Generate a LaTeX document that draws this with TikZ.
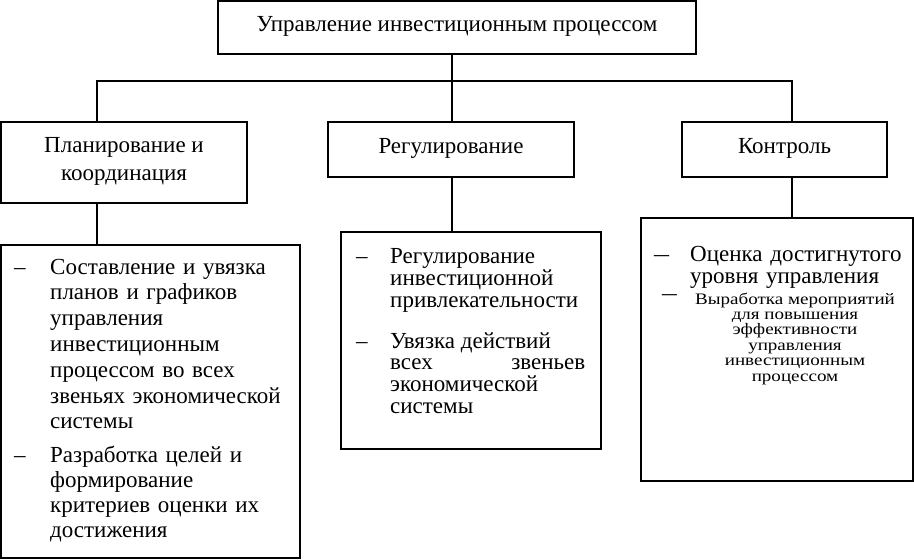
\documentclass[tikz,border=0pt]{standalone}
\usepackage{graphicx}
\usepackage{fontspec}
\setmainfont{Liberation Serif}
\begin{document}
\begin{tikzpicture}[x=1pt,y=-1pt,
  box/.style={draw=black, line width=1.3pt, fill=white, inner sep=0pt},
  conn/.style={draw=black, line width=1.3pt},
  head/.style={inner sep=0pt, align=center, font=\fontsize{23}{28}\selectfont},
  itemL/.style={inner sep=0pt, anchor=base west, text width=250pt, align=left, font=\fontsize{23}{25.8}\selectfont},
  itemM/.style={inner sep=0pt, anchor=base west, text width=210pt, align=left, font=\fontsize{23}{22}\selectfont},
  lineM/.style={inner sep=0pt, anchor=base west, font=\fontsize{23}{22}\selectfont},
  itemR/.style={inner sep=0pt, anchor=base west, text width=220pt, align=left, font=\fontsize{23}{22.5}\selectfont},
  itemRs/.style={inner sep=0pt, anchor=base},
  dashmark/.style={inner sep=0pt, anchor=base west, font=\fontsize{23}{25}\selectfont},
  dashsmall/.style={inner sep=0pt, anchor=base west, font=\fontsize{19}{20}\selectfont}]
\useasboundingbox[fill=white] (0,0) rectangle (914,560);

% boxes
\node[box, minimum width=478pt, minimum height=53pt] (top) at (457,27.5) {};
\node[box, minimum width=246pt, minimum height=81pt] (plan) at (124,162.5) {};
\node[box, minimum width=246pt, minimum height=55pt] (reg) at (451,149.5) {};
\node[box, minimum width=205pt, minimum height=55pt] (ctrl) at (784.5,149.5) {};
\node[box, minimum width=299pt, minimum height=313pt] (L) at (150.5,401.5) {};
\node[box, minimum width=260pt, minimum height=217pt] (M) at (471,340.5) {};
\node[box, minimum width=272pt, minimum height=263pt] (R) at (777,349.5) {};

% connectors
\coordinate (xl) at (97,0);
\coordinate (xm) at (452,0);
\coordinate (xr) at (792,0);
\coordinate (bus) at (452,81);
\draw[conn] (top.south -| xm) -- (reg.north -| xm);
\draw[conn] (plan.north -| xl) |- (bus) -| (ctrl.north -| xr);
\draw[conn] (plan.south -| xl) -- (L.north -| xl);
\draw[conn] (reg.south -| xm) -- (M.north -| xm);
\draw[conn] (ctrl.south -| xr) -- (R.north -| xr);

% headings
\node[head] (topt) at (457,26) {Управление инвестиционным процессом};
\node[head] (plant) at (124,161) {Планирование и\\координация};
\node[head] (regt) at (451,148) {Регулирование};
\node[head] (ctrlt) at (784.5,148) {Контроль};

% left list
\node[dashmark] (dL1) at (14,274) {–};
\node[itemL] (tL1) at (50,274) {Составление и увязка\\планов и графиков\\управления\\инвестиционным\\процессом во всех\\звеньях экономической\\системы};
\node[dashmark] (dL2) at (14,462) {–};
\node[itemL, font=\fontsize{23}{25}\selectfont] (tL2) at (50,462) {Разработка целей и\\формирование\\критериев оценки их\\достижения};

% middle list
\node[dashmark] (dM1) at (356,263) {–};
\node[itemM] (tM1) at (390,263) {Регулирование\\инвестиционной\\привлекательности};
\node[dashmark] (dM2) at (356,348) {–};
\node[lineM] (tM2a) at (390,348) {Увязка действий};
\node[lineM] (tM2b) at (390,369.8) {\makebox[195pt][l]{всех\hfill звеньев}};
\node[lineM] (tM2c) at (390,391.6) {экономической};
\node[lineM] (tM2d) at (390,413.4) {системы};

% right list
\node[dashmark] (dR1) at (654,261) {\scalebox{1.3}[1]{–}};
\node[itemR] (tR1) at (690,261) {Оценка достигнутого\\уровня управления};
\node[dashsmall] (dR2) at (662,300) {\scalebox{1.55}[1.2]{–}};
\node[itemRs] (tR2) at (795,304) {\scalebox{1.19}[1]{\parbox[t]{170pt}{\centering\fontsize{16}{15.4}\selectfont Выработка мероприятий\\для повышения\\эффективности\\управления\\инвестиционным\\процессом}}};
\end{tikzpicture}
\end{document}
